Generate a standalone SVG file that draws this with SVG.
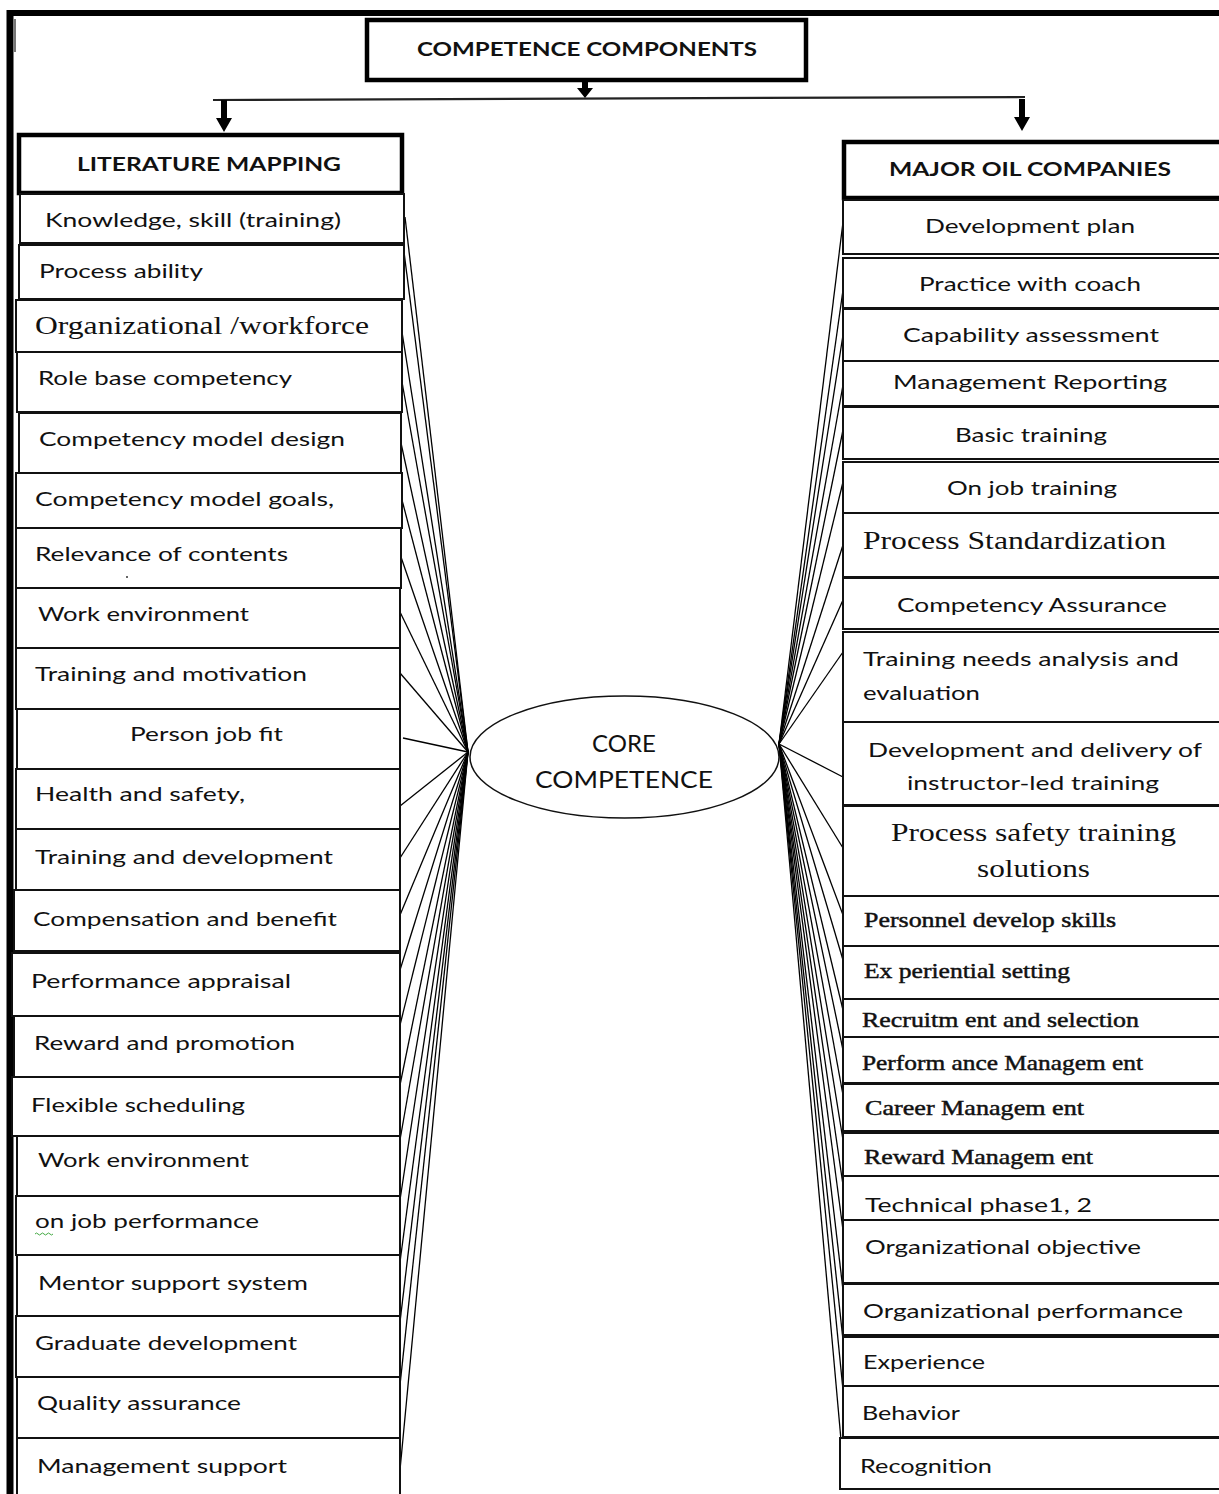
<svg xmlns="http://www.w3.org/2000/svg" xmlns:xlink="http://www.w3.org/1999/xlink" width="1219" height="1494" viewBox="0 0 1219 1494">
<style>
.box{fill:#fff;stroke:#111;stroke-width:2}
.hdr{fill:#fff;stroke:#000;stroke-width:4.5}
.s{font-family:Lato,"Open Sans","Liberation Sans",sans-serif;font-size:20px;fill:#111}
.h{font-family:Lato,"Open Sans","Liberation Sans",sans-serif;font-size:19px;font-weight:bold;fill:#111}
.r{font-family:"Liberation Serif","Times New Roman",serif;font-size:26px;fill:#111}
.rb{font-family:"Liberation Serif","Times New Roman",serif;font-size:21px;fill:#111;stroke:#111;stroke-width:0.45}
.c{font-family:Lato,"Open Sans","Liberation Sans",sans-serif;font-size:24px;fill:#111}
.ln{stroke:#000;stroke-width:1.3;fill:none}
</style>
<defs>
<path id="arr" d="M-3,0 h6 v18 h5 l-8,14 l-8,-14 h5 z" fill="#000"/>
</defs>
<rect width="1219" height="1494" fill="#fff"/>
<g id="frame">
<line x1="7" y1="13" x2="1219" y2="13" stroke="#000" stroke-width="6"/>
<line x1="10" y1="10" x2="10" y2="1494" stroke="#000" stroke-width="7"/>
<line x1="15" y1="19" x2="15" y2="52" stroke="#777" stroke-width="2"/>
</g>

<g id="connectors">
<line x1="213" y1="100" x2="1025" y2="97" stroke="#222" stroke-width="2.2"/>
<path d="M582,82 h6 v6 h5 l-8,10 l-8,-10 h5 z" fill="#000"/>
<use xlink:href="#arr" x="224" y="100"/>
<use xlink:href="#arr" x="1022" y="99"/>
<g class="ln">
<line x1="405" y1="217" x2="468" y2="752"/>
<line x1="404" y1="252" x2="468" y2="752"/>
<line x1="402" y1="332" x2="468" y2="752"/>
<line x1="402" y1="382" x2="468" y2="752"/>
<line x1="401" y1="443" x2="468" y2="752"/>
<line x1="402" y1="500" x2="468" y2="752"/>
<line x1="401" y1="557" x2="468" y2="752"/>
<line x1="400" y1="612" x2="468" y2="752"/>
<line x1="400" y1="673" x2="468" y2="752"/>
<line x1="403" y1="738" x2="468" y2="752"/>
<line x1="400" y1="806" x2="468" y2="752"/>
<line x1="400" y1="858" x2="468" y2="752"/>
<line x1="400" y1="915" x2="468" y2="752"/>
<line x1="400" y1="970" x2="468" y2="752"/>
<line x1="400" y1="1025" x2="468" y2="752"/>
<line x1="400" y1="1085" x2="468" y2="752"/>
<line x1="400" y1="1140" x2="468" y2="752"/>
<line x1="400" y1="1200" x2="468" y2="752"/>
<line x1="400" y1="1262" x2="468" y2="752"/>
<line x1="400" y1="1322" x2="468" y2="752"/>
<line x1="400" y1="1385" x2="468" y2="752"/>
<line x1="400" y1="1470" x2="468" y2="752"/>
</g>
<g class="ln">
<line x1="779" y1="744" x2="843" y2="222"/>
<line x1="779" y1="744" x2="843" y2="290"/>
<line x1="779" y1="744" x2="843" y2="335"/>
<line x1="779" y1="744" x2="843" y2="385"/>
<line x1="779" y1="744" x2="843" y2="430"/>
<line x1="779" y1="744" x2="843" y2="482"/>
<line x1="779" y1="744" x2="843" y2="545"/>
<line x1="779" y1="744" x2="843" y2="600"/>
<line x1="779" y1="744" x2="843" y2="652"/>
<line x1="779" y1="744" x2="843" y2="777"/>
<line x1="779" y1="744" x2="843" y2="848"/>
<line x1="779" y1="744" x2="843" y2="915"/>
<line x1="779" y1="744" x2="843" y2="960"/>
<line x1="779" y1="744" x2="843" y2="1010"/>
<line x1="779" y1="744" x2="843" y2="1050"/>
<line x1="779" y1="744" x2="843" y2="1095"/>
<line x1="779" y1="744" x2="843" y2="1140"/>
<line x1="779" y1="744" x2="843" y2="1185"/>
<line x1="779" y1="744" x2="843" y2="1230"/>
<line x1="779" y1="744" x2="843" y2="1290"/>
<line x1="779" y1="744" x2="843" y2="1340"/>
<line x1="779" y1="744" x2="843" y2="1390"/>
<line x1="779" y1="744" x2="841" y2="1440"/>
</g>
</g>

<g id="competence-components"><rect class="hdr" x="367" y="20" width="439" height="60"/><text class="h" x="417" y="48" dominant-baseline="central" textLength="340" lengthAdjust="spacingAndGlyphs">COMPETENCE  COMPONENTS</text></g>
<g id="literature-mapping"><rect class="hdr" x="19" y="135" width="383" height="58"/><text class="h" x="77" y="163" dominant-baseline="central" textLength="264" lengthAdjust="spacingAndGlyphs">LITERATURE MAPPING</text></g>
<g id="major-oil-companies"><rect class="hdr" x="844" y="142" width="378" height="56"/><text class="h" x="889" y="168" dominant-baseline="central" textLength="282" lengthAdjust="spacingAndGlyphs">MAJOR OIL COMPANIES</text></g>

<g id="core-competence">
<ellipse cx="624.5" cy="757" rx="154.5" ry="61" fill="#fff" stroke="#111" stroke-width="1.5"/>
<text class="c" x="624" y="742" text-anchor="middle" dominant-baseline="central">CORE</text>
<text class="c" x="624" y="778" text-anchor="middle" dominant-baseline="central" textLength="178" lengthAdjust="spacingAndGlyphs">COMPETENCE</text>
</g>

<g id="L1"><rect class="box" x="20" y="194" width="384" height="49"/><text class="s" x="45" y="219" dominant-baseline="central" textLength="296" lengthAdjust="spacingAndGlyphs">Knowledge,  skill (training)</text></g>
<g id="L2"><rect class="box" x="19" y="245" width="385" height="54"/><text class="s" x="39" y="270" dominant-baseline="central" textLength="164" lengthAdjust="spacingAndGlyphs">Process ability</text></g>
<g id="L3"><rect class="box" x="16" y="300" width="386" height="52"/><text class="r" x="35" y="325" dominant-baseline="central" textLength="334" lengthAdjust="spacingAndGlyphs">Organizational /workforce</text></g>
<g id="L4"><rect class="box" x="17" y="352" width="385" height="60"/><text class="s" x="38" y="377" dominant-baseline="central" textLength="254" lengthAdjust="spacingAndGlyphs">Role base competency</text></g>
<g id="L5"><rect class="box" x="19" y="413" width="382" height="60"/><text class="s" x="39" y="438" dominant-baseline="central" textLength="306" lengthAdjust="spacingAndGlyphs">Competency  model design</text></g>
<g id="L6"><rect class="box" x="16" y="473" width="386" height="55"/><text class="s" x="35" y="498" dominant-baseline="central" textLength="299" lengthAdjust="spacingAndGlyphs">Competency  model goals,</text></g>
<g id="L7"><rect class="box" x="16" y="528" width="385" height="60"/><text class="s" x="35" y="553" dominant-baseline="central" textLength="253" lengthAdjust="spacingAndGlyphs">Relevance of contents</text><circle cx="127" cy="577" r="1" fill="#333"/></g>
<g id="L8"><rect class="box" x="16" y="588" width="384" height="60"/><text class="s" x="38" y="613" dominant-baseline="central" textLength="211" lengthAdjust="spacingAndGlyphs">Work environment</text></g>
<g id="L9"><rect class="box" x="16" y="648" width="384" height="61"/><text class="s" x="35" y="673" dominant-baseline="central" textLength="272" lengthAdjust="spacingAndGlyphs">Training  and motivation</text></g>
<g id="L10"><rect class="box" x="17" y="709" width="383" height="60"/><text class="s" x="130" y="733" dominant-baseline="central" textLength="153" lengthAdjust="spacingAndGlyphs">Person job fit</text></g>
<g id="L11"><rect class="box" x="16" y="769" width="384" height="60"/><text class="s" x="35" y="793" dominant-baseline="central" textLength="210" lengthAdjust="spacingAndGlyphs">Health and safety,</text></g>
<g id="L12"><rect class="box" x="16" y="829" width="384" height="61"/><text class="s" x="35" y="856" dominant-baseline="central" textLength="298" lengthAdjust="spacingAndGlyphs">Training  and development</text></g>
<g id="L13"><rect class="box" x="14" y="890" width="386" height="61"/><text class="s" x="33" y="918" dominant-baseline="central" textLength="304" lengthAdjust="spacingAndGlyphs">Compensation  and benefit</text></g>
<g id="L14"><rect class="box" x="12" y="953" width="388" height="63"/><text class="s" x="31" y="980" dominant-baseline="central" textLength="260" lengthAdjust="spacingAndGlyphs">Performance  appraisal</text></g>
<g id="L15"><rect class="box" x="14" y="1016" width="386" height="61"/><text class="s" x="34" y="1042" dominant-baseline="central" textLength="261" lengthAdjust="spacingAndGlyphs">Reward and promotion</text></g>
<g id="L16"><rect class="box" x="12" y="1077" width="388" height="59"/><text class="s" x="31" y="1104" dominant-baseline="central" textLength="214" lengthAdjust="spacingAndGlyphs">Flexible  scheduling</text></g>
<g id="L17"><rect class="box" x="17" y="1136" width="383" height="60"/><text class="s" x="38" y="1159" dominant-baseline="central" textLength="211" lengthAdjust="spacingAndGlyphs">Work environment</text></g>
<g id="L18"><rect class="box" x="16" y="1196" width="384" height="59"/><text class="s" x="35" y="1220" dominant-baseline="central" textLength="224" lengthAdjust="spacingAndGlyphs">on job performance</text><path d="M35,1234 q1.5,-2 3,0 t3,0 t3,0 t3,0 t3,0 t3,0" fill="none" stroke="#4a4" stroke-width="1"/></g>
<g id="L19"><rect class="box" x="17" y="1255" width="383" height="61"/><text class="s" x="38" y="1282" dominant-baseline="central" textLength="270" lengthAdjust="spacingAndGlyphs">Mentor support system</text></g>
<g id="L20"><rect class="box" x="16" y="1316" width="384" height="61"/><text class="s" x="35" y="1342" dominant-baseline="central" textLength="262" lengthAdjust="spacingAndGlyphs">Graduate development</text></g>
<g id="L21"><rect class="box" x="17" y="1377" width="383" height="61"/><text class="s" x="37" y="1402" dominant-baseline="central" textLength="204" lengthAdjust="spacingAndGlyphs">Quality assurance</text></g>
<g id="L22"><rect class="box" x="17" y="1438" width="383" height="64"/><text class="s" x="37" y="1465" dominant-baseline="central" textLength="250" lengthAdjust="spacingAndGlyphs">Management support</text></g>

<g id="R1"><rect class="box" x="843" y="200" width="377" height="54"/><text class="s" x="925" y="225" dominant-baseline="central" textLength="210" lengthAdjust="spacingAndGlyphs">Development  plan</text></g>
<g id="R2"><rect class="box" x="843" y="258" width="377" height="50"/><text class="s" x="919" y="283" dominant-baseline="central" textLength="222" lengthAdjust="spacingAndGlyphs">Practice with coach</text></g>
<g id="R3"><rect class="box" x="843" y="309" width="377" height="52"/><text class="s" x="903" y="334" dominant-baseline="central" textLength="256" lengthAdjust="spacingAndGlyphs">Capability assessment</text></g>
<g id="R4"><rect class="box" x="843" y="361" width="377" height="45"/><text class="s" x="893" y="381" dominant-baseline="central" textLength="274" lengthAdjust="spacingAndGlyphs">Management  Reporting</text></g>
<g id="R5"><rect class="box" x="843" y="407" width="377" height="52"/><text class="s" x="955" y="434" dominant-baseline="central" textLength="152" lengthAdjust="spacingAndGlyphs">Basic training</text></g>
<g id="R6"><rect class="box" x="843" y="462" width="377" height="51"/><text class="s" x="947" y="487" dominant-baseline="central" textLength="170" lengthAdjust="spacingAndGlyphs">On job training</text></g>
<g id="R7"><rect class="box" x="843" y="513" width="377" height="64"/><text class="r" x="863" y="540" dominant-baseline="central" textLength="303" lengthAdjust="spacingAndGlyphs">Process Standardization</text></g>
<g id="R8"><rect class="box" x="843" y="578" width="377" height="51"/><text class="s" x="897" y="604" dominant-baseline="central" textLength="270" lengthAdjust="spacingAndGlyphs">Competency Assurance</text></g>
<g id="R9"><rect class="box" x="843" y="632" width="377" height="90"/><text class="s" x="863" y="658" dominant-baseline="central" textLength="316" lengthAdjust="spacingAndGlyphs">Training  needs  analysis  and</text><text class="s" x="863" y="692" dominant-baseline="central" textLength="117" lengthAdjust="spacingAndGlyphs">evaluation</text></g>
<g id="R10"><rect class="box" x="843" y="722" width="377" height="83"/><text class="s" x="868" y="749" dominant-baseline="central" textLength="334" lengthAdjust="spacingAndGlyphs">Development  and delivery  of</text><text class="s" x="907" y="782" dominant-baseline="central" textLength="252" lengthAdjust="spacingAndGlyphs">instructor-led  training</text></g>
<g id="R11"><rect class="box" x="843" y="806" width="377" height="90"/><text class="r" x="891" y="832" dominant-baseline="central" textLength="285" lengthAdjust="spacingAndGlyphs">Process safety training</text><text class="r" x="977" y="868" dominant-baseline="central" textLength="113" lengthAdjust="spacingAndGlyphs">solutions</text></g>
<g id="R12"><rect class="box" x="843" y="896" width="377" height="50"/><text class="rb" x="864" y="920" dominant-baseline="central" textLength="252" lengthAdjust="spacingAndGlyphs">Personnel develop skills</text></g>
<g id="R13"><rect class="box" x="843" y="946" width="377" height="53"/><text class="rb" x="864" y="971" dominant-baseline="central" textLength="206" lengthAdjust="spacingAndGlyphs">Ex periential setting</text></g>
<g id="R14"><rect class="box" x="843" y="999" width="377" height="38"/><text class="rb" x="862" y="1020" dominant-baseline="central" textLength="277" lengthAdjust="spacingAndGlyphs">Recruitm ent and selection</text></g>
<g id="R15"><rect class="box" x="843" y="1037" width="377" height="46"/><text class="rb" x="862" y="1063" dominant-baseline="central" textLength="281" lengthAdjust="spacingAndGlyphs">Perform ance Managem ent</text></g>
<g id="R16"><rect class="box" x="843" y="1084" width="377" height="47"/><text class="rb" x="865" y="1108" dominant-baseline="central" textLength="219" lengthAdjust="spacingAndGlyphs">Career Managem ent</text></g>
<g id="R17"><rect class="box" x="843" y="1133" width="377" height="43"/><text class="rb" x="864" y="1157" dominant-baseline="central" textLength="229" lengthAdjust="spacingAndGlyphs">Reward Managem ent</text></g>
<g id="R18"><rect class="box" x="843" y="1176" width="377" height="44"/><text class="s" x="865" y="1204" dominant-baseline="central" textLength="227" lengthAdjust="spacingAndGlyphs">Technical  phase1,  2</text></g>
<g id="R19"><rect class="box" x="843" y="1220" width="377" height="63"/><text class="s" x="865" y="1246" dominant-baseline="central" textLength="276" lengthAdjust="spacingAndGlyphs">Organizational  objective</text></g>
<g id="R20"><rect class="box" x="843" y="1284" width="377" height="51"/><text class="s" x="863" y="1310" dominant-baseline="central" textLength="320" lengthAdjust="spacingAndGlyphs">Organizational  performance</text></g>
<g id="R21"><rect class="box" x="843" y="1337" width="377" height="49"/><text class="s" x="863" y="1361" dominant-baseline="central" textLength="122" lengthAdjust="spacingAndGlyphs">Experience</text></g>
<g id="R22"><rect class="box" x="843" y="1386" width="377" height="51"/><text class="s" x="862" y="1412" dominant-baseline="central" textLength="98" lengthAdjust="spacingAndGlyphs">Behavior</text></g>
<g id="R23"><rect class="box" x="840" y="1438" width="380" height="51"/><text class="s" x="860" y="1465" dominant-baseline="central" textLength="132" lengthAdjust="spacingAndGlyphs">Recognition</text></g>
</svg>
